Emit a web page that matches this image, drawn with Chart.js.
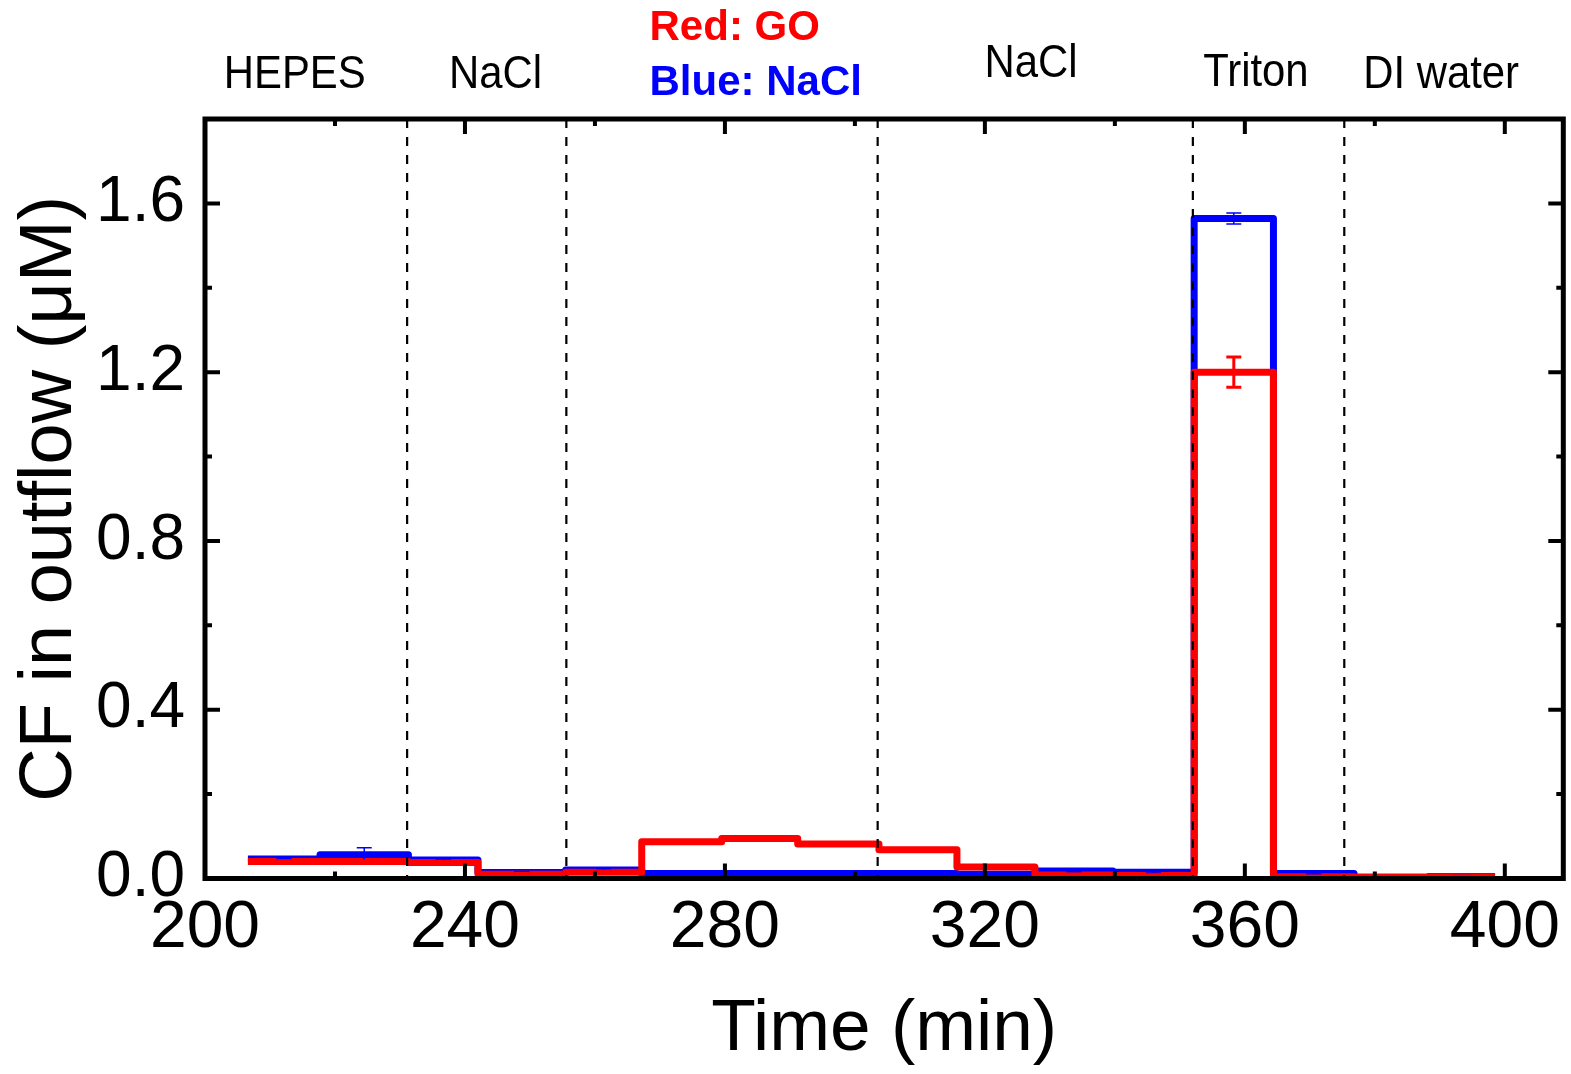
<!DOCTYPE html>
<html><head><meta charset="utf-8">
<script src="https://cdn.jsdelivr.net/npm/chart.js@4.4.0/dist/chart.umd.min.js"></script>
<style>html,body{margin:0;padding:0;background:#fff;overflow:hidden}#wrap{width:1571px;height:1074px}</style>
</head><body><div id="wrap"><canvas id="c" width="1571" height="1074"></canvas></div>
<script>
// Fraction boundaries (min) and CF concentrations (µM) per fraction
const boundaries = [206.6, 217.7, 231.3, 242.0, 255.5, 267.2, 279.5, 291.2, 303.7, 315.7, 327.7, 339.7, 352.2, 364.4, 376.8, 388.3, 398.5];
const blueValues = [0.046, 0.056, 0.044, 0.014, 0.020, 0.012, 0.012, 0.012, 0.012, 0.010, 0.018, 0.015, 1.564, 0.012, 0.003, 0.005];
const redValues  = [0.040, 0.040, 0.038, 0.010, 0.015, 0.087, 0.095, 0.082, 0.068, 0.027, 0.008, 0.007, 1.200, 0.004, 0.003, 0.004];
const blueErrors = [0.002, 0.017, 0.002, 0.002, 0.003, 0.002, 0.002, 0.002, 0.002, 0.002, 0.002, 0.002, 0.013, 0.002, 0.002, 0.002];
const redErrors  = [0.002, 0.002, 0.002, 0.002, 0.002, 0.002, 0.002, 0.002, 0.002, 0.002, 0.002, 0.002, 0.036, 0.002, 0.002, 0.002];
const dividers = [231.1, 255.6, 303.5, 352.0, 375.3];
const xTicks = [200, 240, 280, 320, 360, 400];
const xMinorTicks = [220, 260, 300, 340, 380];
const yTicks = [0, 0.4, 0.8, 1.2, 1.6];
const yMinorTicks = [0.2, 0.6, 1.0, 1.4];
const regionLabels = ['HEPES', 'NaCl', 'NaCl', 'Triton', 'DI water'];
const regionCenters = [213.8, 244.7, 327.1, 361.7, 390.2];
const legendLabels = ['Red: GO', 'Blue: NaCl'];
const legendLeft = 268.4;

function stepData(vals) {
  const pts = vals.map((v, i) => ({x: boundaries[i], y: v}));
  pts.push({x: boundaries[boundaries.length - 1], y: vals[vals.length - 1]});
  return pts;
}

const RED = '#ff0000', BLUE = '#0000ff';
const FONT = "'Liberation Sans', Arial, sans-serif";

const decor = {
  id: 'decor',
  afterDatasetsDraw(chart) {
    const {ctx, chartArea: a, scales: {x, y}} = chart;
    ctx.save();
    // dashed dividers
    ctx.strokeStyle = '#000'; ctx.lineWidth = 2.2; ctx.setLineDash([9, 9]);
    dividers.forEach(d => {
      const px = x.getPixelForValue(d);
      ctx.beginPath(); ctx.moveTo(px, a.top); ctx.lineTo(px, a.bottom); ctx.stroke();
    });
    ctx.setLineDash([]);
    // error bars
    const drawErr = (vals, errs, color, lw) => {
      ctx.strokeStyle = color; ctx.lineWidth = lw;
      vals.forEach((v, i) => {
        const mx = x.getPixelForValue((boundaries[i] + boundaries[i + 1]) / 2);
        const y1 = y.getPixelForValue(v + errs[i]), y2 = y.getPixelForValue(v - errs[i]);
        ctx.beginPath();
        ctx.moveTo(mx, y1); ctx.lineTo(mx, y2);
        ctx.moveTo(mx - 7.5, y1); ctx.lineTo(mx + 7.5, y1);
        ctx.moveTo(mx - 7.5, y2); ctx.lineTo(mx + 7.5, y2);
        ctx.stroke();
      });
    };
    drawErr(blueValues, blueErrors, BLUE, 1.5);
    drawErr(redValues, redErrors, RED, 3);
    // frame
    ctx.strokeStyle = '#000'; ctx.lineWidth = 5;
    ctx.strokeRect(a.left, a.top, a.right - a.left, a.bottom - a.top);
    // inward ticks
    ctx.lineWidth = 4;
    const tx = (vals, len) => vals.forEach(v => {
      const px = x.getPixelForValue(v);
      ctx.beginPath();
      ctx.moveTo(px, a.bottom); ctx.lineTo(px, a.bottom - len);
      ctx.moveTo(px, a.top); ctx.lineTo(px, a.top + len);
      ctx.stroke();
    });
    const ty = (vals, len) => vals.forEach(v => {
      const py = y.getPixelForValue(v);
      ctx.beginPath();
      ctx.moveTo(a.left, py); ctx.lineTo(a.left + len, py);
      ctx.moveTo(a.right, py); ctx.lineTo(a.right - len, py);
      ctx.stroke();
    });
    tx(xTicks, 15); tx(xMinorTicks, 7);
    ty(yTicks, 15); ty(yMinorTicks, 7);
    ctx.restore();
  },
  afterDraw(chart) {
    const {ctx, chartArea: a, scales: {x}} = chart;
    ctx.save();
    ctx.fillStyle = '#000';
    ctx.textAlign = 'center'; ctx.textBaseline = 'alphabetic';
    ctx.font = `46px ${FONT}`;
    const baseOffsets = [31, 31, 42, 33, 31];
    regionLabels.forEach((t, i) => {
      ctx.save();
      ctx.translate(x.getPixelForValue(regionCenters[i]), a.top - baseOffsets[i]);
      ctx.scale(0.91, 1);
      ctx.fillText(t, 0, 0);
      ctx.restore();
    });
    ctx.textAlign = 'left';
    ctx.font = `bold 42px ${FONT}`;
    const lx = x.getPixelForValue(legendLeft);
    ctx.fillStyle = RED; ctx.fillText(legendLabels[0], lx, a.top - 79);
    ctx.fillStyle = BLUE; ctx.fillText(legendLabels[1], lx, a.top - 24);
    ctx.restore();
  }
};

new Chart(document.getElementById('c'), {
  type: 'line',
  data: {
    datasets: [
      {label: 'GO', data: stepData(redValues), borderColor: RED, borderWidth: 7, stepped: 'before', pointRadius: 0, fill: false, borderJoinStyle: 'round'},
      {label: 'NaCl', data: stepData(blueValues), borderColor: BLUE, borderWidth: 7, stepped: 'before', pointRadius: 0, fill: false, borderJoinStyle: 'round'}
    ]
  },
  options: {
    responsive: false,
    animation: false,
    devicePixelRatio: 1,
    layout: {padding: {top: 119, right: 3, left: 0, bottom: 0}},
    plugins: {legend: {display: false}, tooltip: {enabled: false}},
    scales: {
      x: {
        type: 'linear', min: 200, max: 409,
        grid: {display: false, drawTicks: false}, border: {display: false},
        afterBuildTicks: s => { s.ticks = xTicks.map(v => ({value: v})); },
        afterFit: s => { s.height = 195.5; },
        ticks: {color: '#000', font: {family: FONT, size: 66}, padding: 11, maxRotation: 0, autoSkip: false, callback: v => String(v)},
        title: {display: true, text: 'Time (min)', color: '#000', font: {family: FONT, size: 73}, padding: {top: 0, bottom: 0}}
      },
      y: {
        type: 'linear', min: 0, max: 1.8,
        grid: {display: false, drawTicks: false}, border: {display: false},
        afterBuildTicks: s => { s.ticks = yTicks.map(v => ({value: v})); },
        afterFit: s => { s.width = 205; },
        ticks: {color: '#000', font: {family: FONT, size: 64}, padding: 20, autoSkip: false, callback: v => v.toFixed(1)},
        title: {display: true, text: 'CF in outflow (μM)', color: '#000', font: {family: FONT, size: 74}, padding: {top: 6, bottom: 0}}
      }
    }
  },
  plugins: [decor]
});
</script></body></html>
